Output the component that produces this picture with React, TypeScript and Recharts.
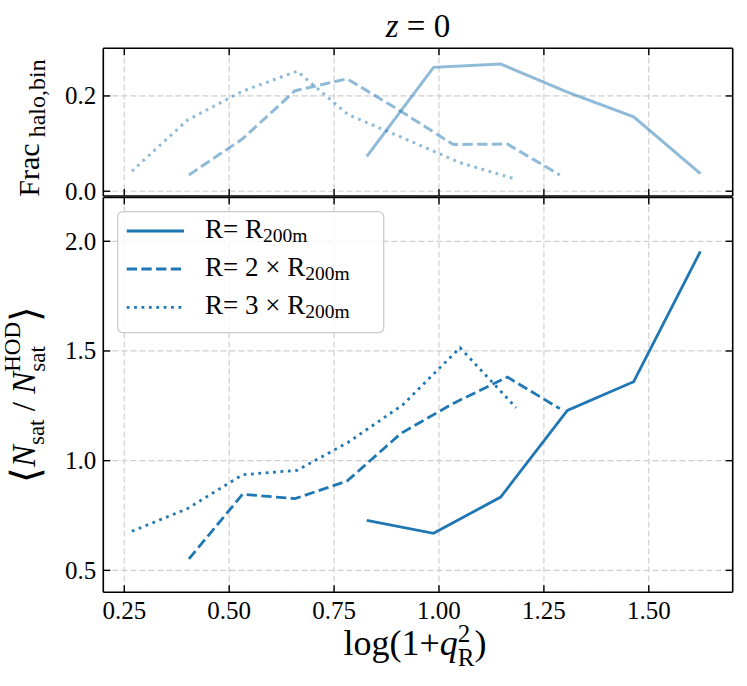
import { CartesianGrid, Legend, Line, LineChart, ReferenceLine, XAxis, YAxis } from "recharts";

const BLUE = "#1f77b4";
const FONT = '"Liberation Serif", "Times New Roman", serif';

// x bins, log(1+q^2_R), one set per aperture
const binsR1 = [0.828, 0.987, 1.147, 1.306, 1.464, 1.623];
const binsR2 = [0.404, 0.532, 0.657, 0.781, 0.909, 1.034, 1.163, 1.288];
const binsR3 = [0.268, 0.4, 0.532, 0.662, 0.783, 0.914, 1.05, 1.184];

// top panel: fraction of haloes per bin
const fracR1 = [0.073, 0.26, 0.267, 0.208, 0.156, 0.037];
const fracR2 = [0.034, 0.11, 0.211, 0.236, 0.168, 0.098, 0.099, 0.034];
const fracR3 = [0.042, 0.149, 0.21, 0.252, 0.161, 0.112, 0.06, 0.025];

// bottom panel: <N_sat / N_sat^HOD>
const ratioR1 = [0.728, 0.669, 0.834, 1.229, 1.36, 1.954];
const ratioR2 = [0.552, 0.847, 0.827, 0.907, 1.124, 1.261, 1.381, 1.237];
const ratioR3 = [0.678, 0.781, 0.936, 0.956, 1.083, 1.255, 1.515, 1.241];

const xTicks = [0.25, 0.5, 0.75, 1.0, 1.25, 1.5];
const fracTicks = [0, 0.2];
const ratioTicks = [0.5, 1.0, 1.5, 2.0];

const X_DOMAIN = [0.2, 1.7];
const FRAC_DOMAIN = [-0.01, 0.3];
const RATIO_DOMAIN = [0.4, 2.2];

const series = [
  { key: "r1", prefix: "R= R", bins: binsR1, frac: fracR1, ratio: ratioR1, dash: undefined },
  { key: "r2", prefix: "R= 2 × R", bins: binsR2, frac: fracR2, ratio: ratioR2, dash: "10.3 4.4" },
  { key: "r3", prefix: "R= 3 × R", bins: binsR3, frac: fracR3, ratio: ratioR3, dash: "2.8 4.6" },
];

const toPoints = (xs: number[], ys: number[]) => xs.map((x, i) => ({ x, y: ys[i] }));

const W = 747;
const LEFT = 103.3;
const RIGHT = 14.3;
const PLOT_W = W - LEFT - RIGHT;
const TICK = 7;
const SPINE = { stroke: "#000", strokeWidth: 1.6 };

// inward ticks on both x edges, label under the bottom one
function xTick(plotH: number, label?: (v: number) => string) {
  return (p: any) => {
    const { x, y, payload } = p;
    return (
      <g>
        <line x1={x} y1={y} x2={x} y2={y - TICK} stroke="#000" strokeWidth={1.4} />
        <line x1={x} y1={y - plotH} x2={x} y2={y - plotH + TICK} stroke="#000" strokeWidth={1.4} />
        {label && (
          <text x={x} y={y + 27} textAnchor="middle" fontFamily={FONT} fontSize={25} fill="#000">
            {label(payload.value)}
          </text>
        )}
      </g>
    );
  };
}

// inward ticks on both y edges, label left of the axis
function yTick(label: (v: number) => string) {
  return (p: any) => {
    const { x, y, payload } = p;
    return (
      <g>
        <line x1={x} y1={y} x2={x + TICK} y2={y} stroke="#000" strokeWidth={1.4} />
        <line x1={x + PLOT_W} y1={y} x2={x + PLOT_W - TICK} y2={y} stroke="#000" strokeWidth={1.4} />
        <text x={x - 7} y={y + 8.5} textAnchor="end" fontFamily={FONT} fontSize={25} fill="#000">
          {label(payload.value)}
        </text>
      </g>
    );
  };
}

function LegendBox() {
  const rows = [20, 58, 96.3];
  return (
    <svg width={268} height={123} style={{ display: "block" }}>
      <rect x={0.7} y={0.7} width={266} height={121} rx={5} fill="#fff" fillOpacity={0.8} stroke="#cccccc" strokeWidth={1.3} />
      {series.map((s, i) => (
        <g key={s.key}>
          <line x1={9.7} x2={67} y1={rows[i]} y2={rows[i]} stroke={BLUE} strokeWidth={2.8} strokeDasharray={s.dash} />
          <text x={88} y={rows[i] + 7} fontFamily={FONT} fontSize={27} fill="#000">
            {s.prefix}
            <tspan fontSize={19.5} dy={4}>200m</tspan>
          </text>
        </g>
      ))}
    </svg>
  );
}

function frame(yDomain: number[]) {
  return [
    <ReferenceLine key="ft" y={yDomain[1]} stroke="#000" strokeWidth={1.6} />,
    <ReferenceLine key="fr" x={X_DOMAIN[1]} stroke="#000" strokeWidth={1.6} />,
  ];
}

const grid = <CartesianGrid stroke="#d0d0d0" strokeWidth={1.2} strokeDasharray="6.2 2.8" />;

const TOP_H = 212;
const TOP_M = { top: 48.3, right: RIGHT, bottom: 15, left: 0 };
const TOP_PLOT_H = TOP_H - TOP_M.top - TOP_M.bottom - 1;
const BOT_H = 686;
const BOT_M = { top: 197.4, right: RIGHT, bottom: 63.7, left: 0 };
const BOT_PLOT_H = BOT_H - BOT_M.top - BOT_M.bottom - 30;

export default function App() {
  return (
    <div style={{ position: "absolute", left: 0, top: 0, width: W, height: 686, background: "#fff" }}>
      <div style={{ position: "absolute", left: 0, top: 0 }}>
        <LineChart width={W} height={TOP_H} margin={TOP_M}>
          {grid}
          <XAxis type="number" dataKey="x" domain={X_DOMAIN} ticks={xTicks} interval={0} height={1} tickSize={0} tickMargin={0} tickLine={false} axisLine={SPINE} tick={xTick(TOP_PLOT_H)} allowDataOverflow />
          <YAxis type="number" domain={FRAC_DOMAIN} ticks={fracTicks} interval={0} width={LEFT} tickSize={0} tickMargin={0} tickLine={false} axisLine={SPINE} tick={yTick((v) => v.toFixed(1))} allowDataOverflow />
          {frame(FRAC_DOMAIN)}
          {series.map((s) => (
            <Line key={s.key} data={toPoints(s.bins, s.frac)} dataKey="y" type="linear" stroke={BLUE} strokeOpacity={0.5} strokeWidth={3} strokeDasharray={s.dash} dot={false} activeDot={false} isAnimationActive={false} />
          ))}
        </LineChart>
      </div>
      <div style={{ position: "absolute", left: 0, top: 0 }}>
        <LineChart width={W} height={BOT_H} margin={BOT_M}>
          {grid}
          <XAxis type="number" dataKey="x" domain={X_DOMAIN} ticks={xTicks} interval={0} height={30} tickSize={0} tickMargin={0} tickLine={false} axisLine={SPINE} tick={xTick(BOT_PLOT_H, (v) => v.toFixed(2))} allowDataOverflow />
          <YAxis type="number" domain={RATIO_DOMAIN} ticks={ratioTicks} interval={0} width={LEFT} tickSize={0} tickMargin={0} tickLine={false} axisLine={SPINE} tick={yTick((v) => v.toFixed(1))} allowDataOverflow />
          {frame(RATIO_DOMAIN)}
          {series.map((s) => (
            <Line key={s.key} data={toPoints(s.bins, s.ratio)} dataKey="y" type="linear" stroke={BLUE} strokeWidth={2.8} strokeDasharray={s.dash} dot={false} activeDot={false} isAnimationActive={false} />
          ))}
          <Legend layout="vertical" align="center" verticalAlign="middle" wrapperStyle={{ left: 117, top: 211, width: 268 }} content={() => <LegendBox />} />
        </LineChart>
      </div>
      <svg width={W} height={686} style={{ position: "absolute", left: 0, top: 0, pointerEvents: "none" }} fontFamily={FONT} fill="#000">
        <text x={418} y={37} textAnchor="middle" fontSize={33}>
          <tspan fontStyle="italic">z</tspan> = 0
        </text>
        <text transform="translate(39,128) rotate(-90)" textAnchor="middle" fontSize={30}>
          Frac<tspan fontSize={24} dy={6}> halo,bin</tspan>
        </text>
        <text transform="translate(35,394.5) rotate(-90)" textAnchor="middle" fontSize={33}>
          <tspan fontSize={40} dy={4}>⟨</tspan>
          <tspan fontStyle="italic" dy={-4}>N</tspan>
          <tspan fontSize={23} dy={9}>sat</tspan>
          <tspan dy={-9}> / </tspan>
          <tspan fontStyle="italic">N</tspan>
          <tspan fontSize={23} dy={-15}>HOD</tspan>
          <tspan fontSize={23} dx={-49.8} dy={25}>sat</tspan>
          <tspan fontSize={40} dx={24.3} dy={-6}>⟩</tspan>
        </text>
        <text x={415} y={655} textAnchor="middle" fontSize={36}>
          log(1+<tspan fontStyle="italic">q</tspan>
          <tspan fontSize={25} dy={-13}>2</tspan>
          <tspan fontSize={25} dx={-12.5} dy={24}>R</tspan>
          <tspan dy={-11}>)</tspan>
        </text>
      </svg>
    </div>
  );
}
